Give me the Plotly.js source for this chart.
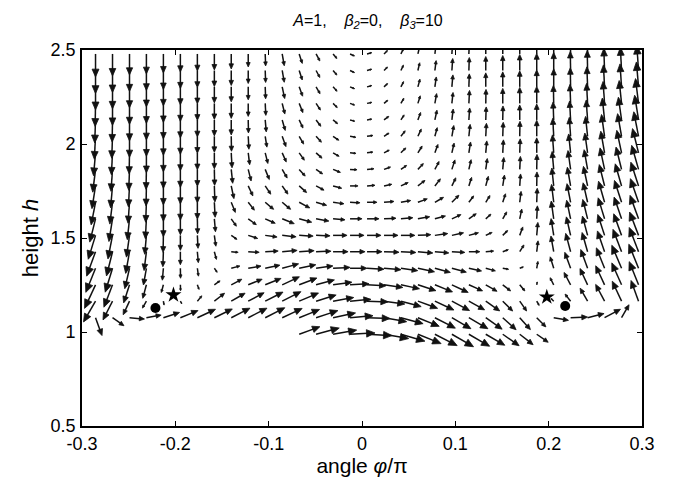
<!DOCTYPE html>
<html><head><meta charset="utf-8">
<script src="https://cdn.plot.ly/plotly-3.0.1.min.js"></script>
<style>html,body{margin:0;padding:0;background:#fff}#chart{width:674px;height:478px}</style>
</head><body><div id="chart"></div>
<script>
// grid positions (angle phi/pi for columns, height h for rows)
const PHI = [-0.2855,-0.2673,-0.2491,-0.2310,-0.2128,-0.1946,-0.1764,-0.1582,-0.1401,-0.1219,-0.1037,
  -0.0855,-0.0673,-0.0492,-0.0310,-0.0128,0.0054,0.0236,0.0417,0.0599,0.0781,0.0963,
  0.1145,0.1326,0.1508,0.1690,0.1872,0.2054,0.2235,0.2417,0.2599,0.2781,0.2963];
const H = [2.479,2.391,2.304,2.216,2.128,2.041,1.953,1.865,1.777,1.690,1.602,1.514,1.427,1.339,1.251,1.164,1.076,0.988];

// arrow direction (degrees) per column, rows top to bottom
const ANGLE = [
 [-90,-90,-90,-91,-92,-93,-95,-97,-99,-101,-104,-107,-110,-112,-115,-120,-70,null],
 [-90,-90,-90,-90,-91,-92,-93,-94,-95,-97,-99,-101,-104,-107,-111,-117,-35,null],
 [-90,-90,-90,-90,-90,-90,-91,-92,-93,-94,-96,-98,-100,-103,-108,-115,-5,null],
 [-90,-90,-90,-90,-90,-90,-90,-91,-91,-92,-93,-95,-97,-100,-105,-120,10,null],
 [-90,-90,-90,-90,-90,-90,-90,-90,-90,-90,-90,-91,-92,-95,-105,-80,18,null],
 [-90,-90,-90,-90,-90,-90,-90,-90,-90,-90,-90,-90,-90,-89,-88,-60,22,null],
 [-90,-90,-90,-90,-90,-90,-90,-90,-90,-90,-89,-87,-85,-82,-70,50,25,null],
 [-90,-90,-90,-90,-90,-90,-90,-89,-88,-87,-85,-82,-75,-55,35,38,26,null],
 [-90,-90,-90,-90,-90,-89,-87,-84,-78,-68,-55,-35,-5,15,28,30,27,null],
 [-90,-90,-90,-90,-89,-87,-83,-76,-65,-52,-36,-18,-3,10,22,28,27,null],
 [-88,-88,-88,-87,-85,-81,-76,-68,-56,-40,-24,-8,3,12,22,27,27,null],
 [-80,-80,-78,-76,-74,-70,-66,-60,-55,-40,-22,-6,5,15,25,27,25,null],
 [-72,-72,-70,-68,-65,-60,-55,-48,-42,-28,-15,-3,4,12,21,23,22,20],
 [-62,-62,-60,-57,-53,-48,-42,-35,-28,-16,-10,-2,2,8,15,17,18,15],
 [-50,-50,-48,-45,-40,-35,-30,-22,-15,-8,-5,0,0,3,8,10,12,10],
 [-25,-25,-22,-20,-15,-10,-5,-3,0,-3,0,0,0,0,3,5,5,3],
 [15,15,15,12,10,8,8,5,5,0,0,0,0,-3,-3,-2,-2,-3],
 [45,45,43,40,37,33,28,20,12,5,3,0,-2,-5,-8,-8,-10,-10],
 [65,65,63,60,57,52,45,35,25,10,5,0,-3,-8,-12,-15,-15,-16],
 [77,77,75,73,70,65,58,47,38,20,10,3,-5,-12,-18,-20,-22,-22],
 [83,83,82,80,78,75,70,62,52,30,15,8,-5,-15,-22,-25,-27,-27],
 [86,86,85,84,83,80,77,72,64,45,25,12,-3,-15,-25,-28,-30,-30],
 [88,88,88,87,86,84,81,77,72,53,35,15,0,-12,-24,-29,-30,-30],
 [90,90,90,89,88,87,85,82,75,58,42,25,5,-15,-30,-35,-35,-30],
 [90,90,90,90,89,88,87,85,81,72,60,45,20,-10,-38,-45,-42,-35],
 [90,90,90,90,90,89,88,87,86,83,78,70,58,20,-50,-55,-48,-38],
 [90,90,90,90,90,90,90,89,89,88,87,85,83,80,80,-60,-45,-35],
 [90,90,90,91,92,93,94,95,96,97,98,99,100,107,117,135,-10,null],
 [91,91,91,92,93,94,96,98,100,101,102,103,105,110,118,128,2,null],
 [91,91,92,93,94,96,98,100,102,103,104,105,106,110,115,120,14,null],
 [92,92,93,94,96,98,100,102,104,106,107,108,109,112,115,118,28,null],
 [93,93,94,96,98,100,102,104,106,108,109,110,111,113,114,115,60,null],
 [94,94,95,97,99,101,104,106,108,109,110,111,111,112,112,110,null,null]
];
// arrow magnitude per column, rows top to bottom (null = no arrow)
const LENGTH = [
 [23,23,23,23,23,23,23,23,23,23,24,25,26,26,26,24,19,null],
 [22,22,22,22,22,22,22,22,22,22,23,24,25,25,24,21,14,null],
 [21,21,21,21,21,21,21,21,21,21,21,22,22,21,19,15,15,null],
 [20,20,20,20,20,20,20,20,20,20,20,19,19,17,14,8,15,null],
 [19,19,19,19,19,19,19,19,19,19,18,17,15,12,8,4,17,null],
 [18,18,18,18,18,18,18,18,18,18,16,15,13,10,6,3,19,null],
 [17,17,17,17,17,17,17,17,17,17,15,13,11,8,5,7,20,null],
 [16,16,16,16,16,16,16,16,16,15,13,11,8,5,7,13,20,null],
 [15,15,15,15,15,15,15,14,13,11,9,7,7,9,12,16,21,null],
 [13,13,13,13,13,13,12,12,11,10,10,10,11,13,15,18,21,null],
 [12,12,12,12,12,11,11,11,10,11,11,12,13,15,17,20,22,null],
 [12,12,12,11,11,11,10,10,10,11,13,14,15,17,19,21,22,null],
 [10,10,10,10,9,9,9,9,10,12,13,14,15,17,19,21,22,22],
 [8,8,8,8,8,8,8,8,9,11,13,14,15,17,19,21,23,24],
 [6,6,6,6,6,7,7,8,9,11,12,14,15,17,19,21,23,24],
 [5,5,5,5,5,6,6,7,8,10,12,14,15,17,19,21,23,25],
 [5,5,5,5,5,6,6,7,8,10,12,14,15,17,19,21,23,25],
 [5,5,5,5,6,6,6,7,8,10,12,14,15,17,19,21,23,25],
 [6,6,6,6,6,7,7,7,8,10,12,14,15,17,19,21,23,25],
 [8,8,8,8,8,8,8,8,9,10,12,13,15,17,19,21,23,25],
 [10,10,10,10,10,9,9,9,9,10,11,13,14,16,19,21,23,25],
 [12,12,12,11,11,11,10,10,9,10,10,12,13,15,18,20,22,25],
 [13,13,13,13,12,12,11,10,9,8,9,10,11,13,15,18,22,24],
 [14,14,14,14,13,13,12,11,10,8,7,7,8,10,13,17,20,22],
 [15,15,15,15,14,14,13,12,11,9,8,7,6,6,10,14,18,20],
 [16,16,16,16,15,15,14,13,12,11,10,9,8,4,8,12,16,17],
 [17,17,17,17,16,16,15,15,14,14,13,13,11,7,3,5,13,14],
 [18,18,18,18,18,18,18,18,18,18,18,17,16,12,8,4,15,null],
 [19,19,19,19,19,19,19,19,19,19,19,19,19,17,14,9,17,null],
 [20,20,20,20,20,20,20,20,20,20,20,20,20,20,18,15,17,null],
 [22,22,22,22,22,22,22,22,22,22,22,22,22,22,21,19,18,null],
 [23,23,23,23,23,23,23,23,23,23,23,23,24,25,24,22,15,null],
 [25,25,25,25,25,25,25,25,25,25,25,25,26,26,25,22,null,null]
];

const DOT_PHI = [-0.2213, 0.2177];
const DOT_H = [1.128, 1.138];
const STAR_PHI = [-0.202, 0.198];
const STAR_H = [1.197, 1.186];

const XTICKS = [-0.3,-0.2,-0.1,0,0.1,0.2,0.3];
const XTICKTEXT = ['-0.3','-0.2','-0.1','0','0.1','0.2','0.3'];
const YTICKS = [0.5,1,1.5,2,2.5];
const YTICKTEXT = ['0.5','1','1.5','2','2.5'];

const W = 674, HT = 478, M = {l:82, r:32, t:50, b:52};
const XR = [-0.3,0.3], YR = [0.5,2.5];
const sx = (W-M.l-M.r)/(XR[1]-XR[0]);
const sy = (HT-M.t-M.b)/(YR[1]-YR[0]);

const sxs = [], sys = [], hxs = [], hys = [];
const ALPHA = 0.34, BETA = 0.44;
for (let k = 0; k < PHI.length; k++) {
  for (let j = 0; j < H.length; j++) {
    const L = LENGTH[k][j];
    if (L === null || ANGLE[k][j] === null) continue;
    const a = ANGLE[k][j]*Math.PI/180;
    const u = L*Math.cos(a), v = L*Math.sin(a);
    const x0 = PHI[k], y0 = H[j];
    const x1 = x0 + u/sx, y1 = y0 + v/sy;
    const hx1 = u - ALPHA*(u + BETA*v), hy1 = v - ALPHA*(v - BETA*u);
    const hx2 = u - ALPHA*(u - BETA*v), hy2 = v - ALPHA*(v + BETA*u);
    const bx = u - ALPHA*u*0.85, by = v - ALPHA*v*0.85;
    sxs.push(x0, x0 + bx/sx, null);
    sys.push(y0, y0 + by/sy, null);
    hxs.push(x0 + hx1/sx, x1, x0 + hx2/sx, x0 + hx1/sx, null);
    hys.push(y0 + hy1/sy, y1, y0 + hy2/sy, y0 + hy1/sy, null);
  }
}

const FONT = 'Liberation Sans, Arial, Helvetica, sans-serif';
const traces = [
  {type:'scatter', mode:'lines', x:sxs, y:sys, line:{color:'#111', width:1.5}, hoverinfo:'skip', showlegend:false},
  {type:'scatter', mode:'lines', x:hxs, y:hys, fill:'toself', fillcolor:'#111', line:{color:'#111', width:0.8}, hoverinfo:'skip', showlegend:false},
  {type:'scatter', mode:'markers', x:DOT_PHI, y:DOT_H, marker:{symbol:'circle', size:10, color:'#000'}, showlegend:false},
  {type:'scatter', mode:'markers', x:STAR_PHI, y:STAR_H, marker:{symbol:'star', size:12, color:'#000'}, showlegend:false}
];

const axisCommon = {
  showline:true, linecolor:'#000', linewidth:1.8, mirror:'ticks',
  ticks:'inside', ticklen:5, tickwidth:1, tickcolor:'#000',
  showgrid:false, zeroline:false, automargin:false,
  tickfont:{family:FONT, size:18, color:'#000'}
};

const layout = {
  width:W, height:HT, margin:M, paper_bgcolor:'#fff', plot_bgcolor:'#fff',
  font:{family:FONT, color:'#000'},
  title:{text:'<i>A</i>=1,&nbsp;&nbsp;&nbsp; <i>β</i><sub><i>2</i></sub>=0,&nbsp;&nbsp;&nbsp; <i>β</i><sub><i>3</i></sub>=10',
         font:{family:FONT, size:16, color:'#000'}, xref:'container', x:0.546, xanchor:'center',
         yref:'container', y:0.958, yanchor:'middle'},
  xaxis:Object.assign({}, axisCommon, {range:XR, tickvals:XTICKS, ticktext:XTICKTEXT, ticklabelstandoff:1,
         title:{text:'angle <i>φ</i>/π', font:{family:FONT, size:21, color:'#000'}, standoff:5}}),
  yaxis:Object.assign({}, axisCommon, {range:YR, tickvals:YTICKS, ticktext:YTICKTEXT, ticklabelstandoff:1,
         title:{text:'height <i>h</i>', font:{family:FONT, size:22, color:'#000'}, standoff:6}})
};

Plotly.newPlot('chart', traces, layout, {staticPlot:true, displayModeBar:false});
</script></body></html>
